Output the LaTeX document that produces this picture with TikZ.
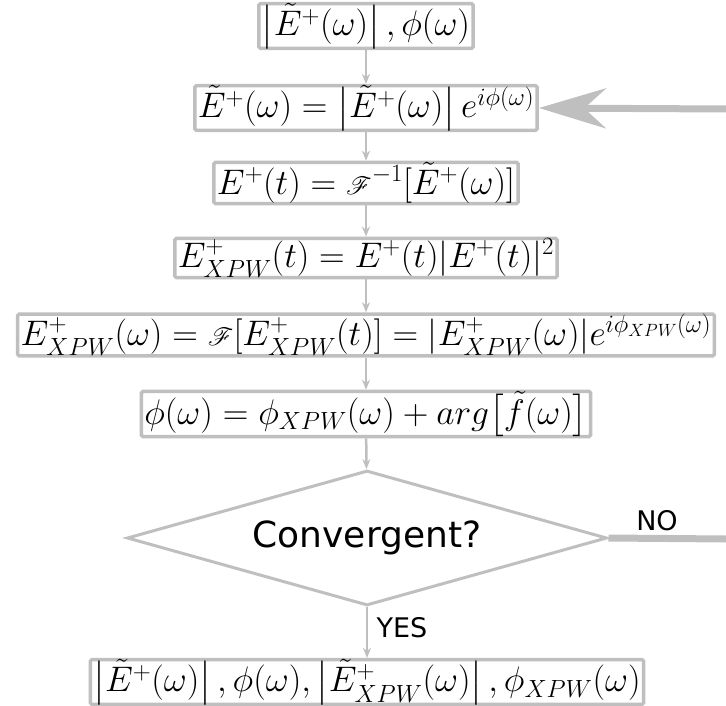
\RequirePackage{fix-cm}
\documentclass[tikz,border=0pt]{standalone}
\usepackage{amsmath,amssymb,mathrsfs}
\usepackage{fontspec}
\newfontfamily\labelfont{DejaVu Sans}
\usepackage{tikz}
\usetikzlibrary{arrows.meta,positioning,calc,shapes.geometric}
\definecolor{flowgray}{RGB}{191,191,191}

\begin{document}
\begin{tikzpicture}[x=1pt, y=-1pt, every node/.style={font=\fontsize{35.5}{40}\selectfont},
  eqbox/.style={draw=flowgray, line width=3.5pt, rounded corners=1.5pt, inner xsep=3pt, inner ysep=0pt, fill=white},
  flow/.style={draw=flowgray, line width=2.5pt, -{Stealth[length=10pt,width=8pt]}},
  flowlabel/.style={font=\labelfont\fontsize{27}{32}\selectfont},
  loopline/.style={draw=flowgray, line width=7pt}]
\useasboundingbox (0,0) rectangle (726,706);
% Iteration steps
\node[eqbox] (b1) at (366,26) {$\left|\tilde{E}^{+}(\omega)\right|,\phi(\omega)$};
\node[eqbox] (b2) at (366,108) {$\tilde{E}^{+}(\omega)=\left|\tilde{E}^{+}(\omega)\right|e^{i\phi(\omega)}$};
\node[eqbox] (b3) at (366,183) {$E^{+}(t)=\mathscr{F}^{-1}[\tilde{E}^{+}(\omega)]$};
\node[eqbox] (b4) at (366,258) {$E^{+}_{XPW}(t)=E^{+}(t)|E^{+}(t)|^{2}$};
\node[eqbox] (b5) at (366,335) {$E^{+}_{XPW}(\omega)=\mathscr{F}[E^{+}_{XPW}(t)]=|E^{+}_{XPW}(\omega)|e^{i\phi_{XPW}(\omega)}$};
\node[eqbox] (b6) at (366,414) {$\phi(\omega)=\phi_{XPW}(\omega)+arg\bigl[\tilde{f}(\omega)\bigr]$};
\draw[flow] (b1) -- (b2);
\draw[flow] (b2) -- (b3);
\draw[flow] (b3) -- (b4);
\draw[flow] (b4) -- (b5);
\draw[flow] (b5) -- (b6);

% Test and result
\node[diamond, aspect=3.56, draw=flowgray, line width=3pt, minimum width=480pt, minimum height=135pt, inner sep=0pt,
  font=\labelfont\fontsize{36}{42}\selectfont] (conv) at (367,538) {Convergent?};
\node[eqbox] (res) at (367,682) {$\left|\tilde{E}^{+}(\omega)\right|,\phi(\omega),\left|\tilde{E}^{+}_{XPW}(\omega)\right|,\phi_{XPW}(\omega)$};
\draw[flow] (b6) -- (conv);
\draw[flow] (conv) -- (res);
\node[flowlabel] (yes) at (402,628) {YES};

% Loop back
\coordinate (noend) at (726,539);
\coordinate (backin) at (726,109);
\draw[loopline] (conv.east) -- (noend);
\node[flowlabel] (no) at (657,521) {NO};
\draw[loopline, -{Stealth[length=67pt,width=40pt]}] (backin) -- (b2.east);
\end{tikzpicture}
\end{document}
